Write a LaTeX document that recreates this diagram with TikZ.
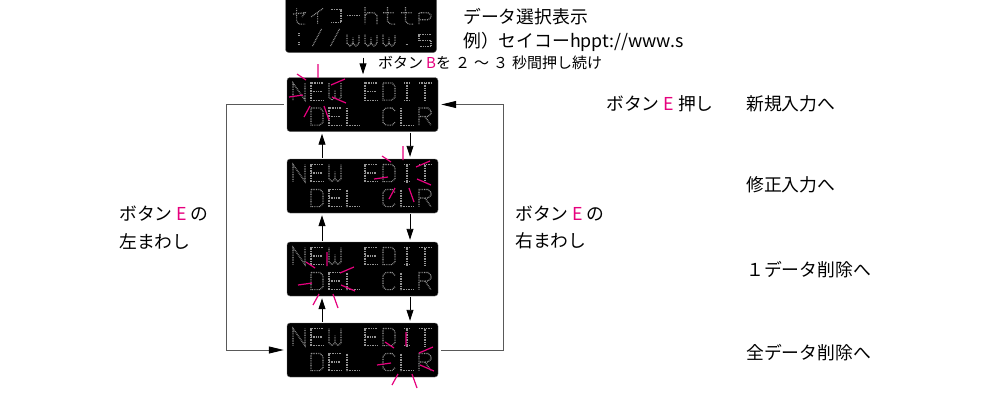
\documentclass[tikz,border=0pt]{standalone}
\usepackage{fontspec}
\setmainfont{Noto Sans CJK JP}
\usetikzlibrary{arrows.meta,calc}
\definecolor{mag}{RGB}{230,0,126}
\definecolor{dmgray}{RGB}{150,150,150}
\tikzset{
  dm/.style={draw=dmgray, line width=1.2pt, dash pattern=on 0.8pt off 0.9pt},
  ray/.style={draw=mag, line width=1.2pt},
  disp/.style={draw=black!55, fill=black, rounded corners=3pt, minimum width=151pt, minimum height=54pt, inner sep=0pt},
  arr/.style={-{Triangle[width=7pt,length=11pt]}, line width=0.9pt},
  gline/.style={draw=black!65, line width=0.8pt, -{Triangle[width=7pt,length=15pt,color=black]}},
  jt/.style={anchor=west, inner sep=0pt, font=\fontsize{17.8}{21}\selectfont},
  jts/.style={anchor=west, inner sep=0pt, font=\fontsize{15}{18}\selectfont},
}
\newcommand\dmN{\draw[dm] (0,6)--(0,0)--(4,6)--(4,0);}
\newcommand\dmE{\draw[dm] (4,0)--(0,0)--(0,6)--(4,6) (0,3)--(3.5,3);}
\newcommand\dmW{\draw[dm] (0,0)--(0,5)--(1,6)--(2,5)--(3,6)--(4,5)--(4,0) (2,5)--(2,2.5);}
\newcommand\dmD{\draw[dm] (0,0)--(3,0)--(4,1)--(4,5)--(3,6)--(0,6)--cycle;}
\newcommand\dmI{\draw[dm] (1,0)--(3,0) (2,0)--(2,6) (1,6)--(3,6);}
\newcommand\dmT{\draw[dm] (0,0)--(4,0) (2,0)--(2,6);}
\newcommand\dmL{\draw[dm] (0,0)--(0,6)--(4,6);}
\newcommand\dmC{\draw[dm] (4,1)--(3,0)--(1,0)--(0,1)--(0,5)--(1,6)--(3,6)--(4,5);}
\newcommand\dmR{\draw[dm] (0,6)--(0,0)--(3,0)--(4,1)--(4,2)--(3,3)--(0,3) (2,3)--(4,6);}
\newcommand\dmsp{}
\newcommand\dmse{\draw[dm] (0,2.5)--(4,2)--(3,3.5) (1.2,0.5)--(1.2,5)--(2,6)--(4,6);}
\newcommand\dmi{\draw[dm] (4,0.5)--(0,3.5) (2.2,2)--(2.2,6);}
\newcommand\dmko{\draw[dm] (0.5,1)--(4,1)--(4,5.5)--(0.5,5.5);}
\newcommand\dmbar{\draw[dm] (0,3)--(4,3);}
\newcommand\dmh{\draw[dm] (0,0)--(0,6) (0,3)--(1,2)--(3,2)--(4,3)--(4,6);}
\newcommand\dmt{\draw[dm] (1.5,0)--(1.5,5)--(2.5,6)--(4,6) (0,2)--(3.5,2);}
\newcommand\dmp{\draw[dm] (0,6)--(0,2)--(3,2)--(4,2.8)--(4,3.7)--(3,4.5)--(0,4.5);}
\newcommand\dmcolon{\draw[dm] (2,1.5)--(2,2.5) (2,4.5)--(2,5.5);}
\newcommand\dmslash{\draw[dm] (0.5,6)--(3.5,0);}
\newcommand\dmw{\draw[dm] (0,2)--(0,5)--(1,6)--(2,5)--(3,6)--(4,5)--(4,2) (2,5)--(2,3);}
\newcommand\dmdot{\draw[dm] (1.5,5.5)--(2.5,5.5);}
\newcommand\dms{\draw[dm] (4,2)--(0,2)--(0,4)--(4,4)--(4,6)--(0,6);}
\newcommand\dmrow[3]{\foreach \c [count=\k from 0] in {#3}{\begin{scope}[shift={(#1+\k*18,#2)},x=3pt,y=-2.85pt]\csname dm\c\endcsname\end{scope}}}
\newcommand\burst[1]{\begin{scope}[shift={(#1)}]\draw[ray] (0,-29)--(0,-15) (-21,-19)--(-12,-13) (13,-8)--(27,-14) (-29,4)--(-15,2) (14,4)--(28,10) (-14,24)--(-8,13) (6,13)--(11,27);\end{scope}}
\begin{document}
\begin{tikzpicture}[x=1pt,y=-1pt]
\useasboundingbox (0,0) rectangle (995,407);
% displays
\node[disp, minimum height=57pt] (d0) at (361,24) {};
\node[disp] (d1) at (362.5,104.5) {};
\node[disp] (d2) at (362.5,186) {};
\node[disp] (d3) at (362.5,269) {};
\node[disp] (d4) at (362.5,350) {};
% display texts
\dmrow{293}{7}{se,i,ko,bar,h,t,t,p}
\dmrow{293}{29}{colon,slash,slash,w,w,w,dot,s}
\foreach \yc in {104.5,186,269,350}{
  \dmrow{293}{\yc-21.5}{N,E,W,sp,E,D,I,T}
  \dmrow{293}{\yc+3.5}{sp,D,E,L,sp,C,L,R}
}
% bursts
\burst{$(d1)+(-44.5,-11.5)$}
\burst{$(d2)+(40.5,-11)$}
\burst{$(d3)+(-35.5,12)$}
\burst{$(d4)+(43.5,11)$}
% arrows
\draw[arr, shorten <=5pt, shorten >=3pt] ([xshift=2pt]d0.south) -- ([xshift=2pt]d0.south |- d1.north);
\foreach \a/\b in {d1/d2,d2/d3,d3/d4}{
  \draw[arr, shorten <=1pt, shorten >=2pt] ([xshift=-40.5pt]\b.north) -- ([xshift=-40.5pt]\a.south);
  \draw[arr, shorten <=1pt, shorten >=2pt] ([xshift=47.5pt]\a.south) -- ([xshift=47.5pt]\b.north);
}
\coordinate (lx) at (226,0);
\coordinate (rx) at (503,0);
\draw[gline, shorten <=3pt, shorten >=3pt] (d1.west) -- (d1.west -| lx) -- (d4.west -| lx) -- (d4.west);
\draw[gline, shorten <=3pt, shorten >=3pt] (d4.east) -- (d4.east -| rx) -- (d1.east -| rx) -- (d1.east);
% texts
\node[jt] (tsel) at (463,17) {データ選択表示};
\node[jt] (tex) at (463,42) {例）セイコーhppt://www.s};
\node[jts] (tb) at (378,63) {ボタン\hspace{3pt}{\color{mag}B}を\hspace{4pt}２\hspace{4pt}～\hspace{4pt}３\hspace{4pt}秒間押し続け};
\node[jt] (tl1) at (119,214) {ボタン\hspace{4pt}{\color{mag}E}\hspace{3pt}の};
\node[jt] (tl2) at (119,241) {左まわし};
\node[jt] (tr1) at (515,214) {ボタン\hspace{4pt}{\color{mag}E}\hspace{3pt}の};
\node[jt] (tr2) at (515,241) {右まわし};
\node[jt] (te) at (606,104) {ボタン\hspace{4pt}{\color{mag}E}\hspace{4pt}押し};
\node[jt] (tnew) at (746,104) {新規入力へ};
\node[jt] (tedit) at (746,185) {修正入力へ};
\node[jt] (tdel1) at (746,270) {１データ削除へ};
\node[jt] (tdelall) at (746,353) {全データ削除へ};
\end{tikzpicture}
\end{document}
